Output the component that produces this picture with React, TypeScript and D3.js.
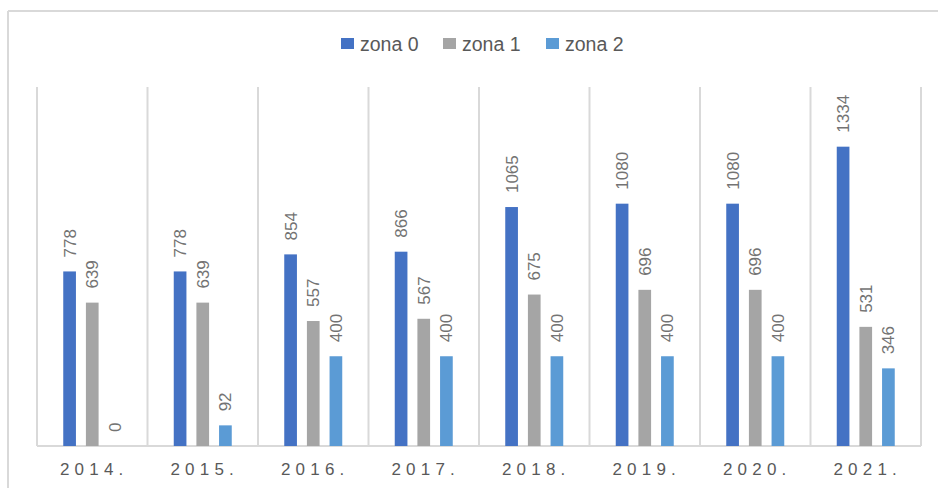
import React from 'react'
import * as d3 from 'd3'

const years = ['2014.', '2015.', '2016.', '2017.', '2018.', '2019.', '2020.', '2021.']
const seriesNames = ['zona 0', 'zona 1', 'zona 2']
const zona0 = [778, 778, 854, 866, 1065, 1080, 1080, 1334]
const zona1 = [639, 639, 557, 567, 675, 696, 696, 531]
const zona2 = [0, 92, 400, 400, 400, 400, 400, 346]
const colors = ['#4472C4', '#A5A5A5', '#5B9BD5']

const W = 938
const H = 488
const plot = { left: 37, right: 921, top: 87, bottom: 446 }
const grid = '#d9d9d9'
const textColor = '#595959'
const labelColor = '#737373'

const App = () => {
  const values = [zona0, zona1, zona2]

  const x = d3.scaleBand<string>().domain(years).range([plot.left, plot.right]).padding(0)
  const groupW = 58
  const x1 = d3
    .scaleBand<string>()
    .domain(seriesNames)
    .range([0, groupW])
    .paddingInner(0.44)
    .paddingOuter(0)
  const y = d3.scaleLinear().domain([0, 1600]).range([plot.bottom, plot.top])
  const offset = (x.bandwidth() - groupW) / 2

  // legend layout (swatch x positions)
  const legendX = [341, 443, 546]

  return (
    <svg
      width={W}
      height={H}
      style={{ position: 'absolute', left: 0, top: 0, background: '#fff' }}
      fontFamily="'Liberation Sans', Arial, sans-serif"
    >
      {/* chart frame, only left and top edges visible */}
      <line x1={8} y1={11} x2={W} y2={11} stroke={grid} strokeWidth={2} />
      <line x1={8} y1={11} x2={8} y2={H} stroke={grid} strokeWidth={2} />

      {/* vertical category separators */}
      {years.concat(['end']).map((yr, i) => {
        const gx = i < years.length ? (x(yr) as number) : plot.right
        return (
          <line key={'g' + i} x1={gx} y1={plot.top} x2={gx} y2={plot.bottom} stroke={grid} strokeWidth={2} />
        )
      })}
      <line x1={plot.left} y1={plot.bottom} x2={plot.right} y2={plot.bottom} stroke={grid} strokeWidth={2} />

      {/* bars */}
      {years.map((yr, i) => (
        <g key={yr}>
          {seriesNames.map((s, j) => {
            const v = values[j][i]
            const bx = (x(yr) as number) + offset + (x1(s) as number)
            const bw = x1.bandwidth()
            const top = y(v)
            const cx = bx + bw / 2
            return (
              <g key={s}>
                {v > 0 && <rect x={bx} y={top} width={bw} height={plot.bottom - top} fill={colors[j]} />}
                <text
                  transform={`translate(${cx},${top - 14}) rotate(-90)`}
                  dy="0.35em"
                  fontSize={17}
                  fill={labelColor}
                  textAnchor="start"
                >
                  {v}
                </text>
              </g>
            )
          })}
        </g>
      ))}

      {/* x-axis labels */}
      {years.map((yr) => (
        <text
          key={'l' + yr}
          x={(x(yr) as number) + x.bandwidth() / 2 + 2}
          y={475}
          fontSize={17}
          letterSpacing={5.2}
          textAnchor="middle"
          fill={textColor}
        >
          {yr}
        </text>
      ))}

      {/* legend */}
      {seriesNames.map((s, j) => (
        <g key={'lg' + s}>
          <rect x={legendX[j]} y={38} width={13} height={11} fill={colors[j]} />
          <text x={legendX[j] + 19} y={50.5} fontSize={19.5} fill={textColor}>
            {s}
          </text>
        </g>
      ))}
    </svg>
  )
}

export default App
